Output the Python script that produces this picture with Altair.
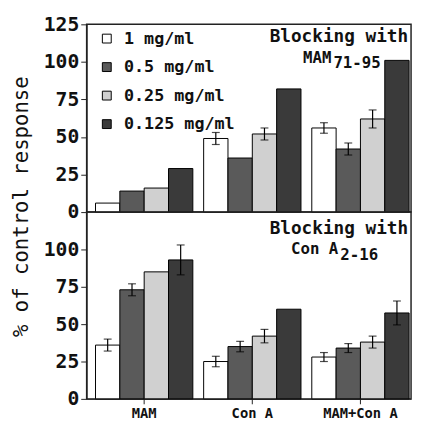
import altair as alt
import pandas as pd

groups = ["MAM", "Con A", "MAM+Con A"]
concs = ["1 mg/ml", "0.5 mg/ml", "0.25 mg/ml", "0.125 mg/ml"]
fills = ["#ffffff", "#5a5a5a", "#d0d0d0", "#3a3a3a"]

# rows: groups, columns: concentrations
top_values = [[6, 14, 16, 29], [49, 36, 52, 82], [56, 42, 62, 101]]
top_errors = [[0, 0, 0, 0], [4, 0, 4, 0], [3.5, 4, 6, 0]]
bottom_values = [[36, 73, 85, 93], [25, 35, 42, 60], [28, 34, 38, 57.5]]
bottom_errors = [[4, 4, 0, 10], [3.5, 3.5, 4.5, 0], [3, 3, 4, 8]]

top_ticks = [0, 25, 50, 75, 100, 125]
bottom_ticks = [0, 25, 50, 75, 100]
y_title = "% of control response"
top_label = ["Blocking with", "MAM", "71-95"]
bottom_label = ["Blocking with", "Con A", "2-16"]

MONO = "DejaVu Sans Mono, Liberation Mono, monospace"


def make_df(values, errors):
    rows = []
    for gi, g in enumerate(groups):
        for ci, c in enumerate(concs):
            v = values[gi][ci]
            e = errors[gi][ci]
            rows.append({"group": g, "conc": c, "value": v, "err": e,
                         "lo": v - e, "hi": v + e})
    return pd.DataFrame(rows)


def panel(values, errors, ticks, label, top, height):
    df = make_df(values, errors)
    err_df = df[df["err"] > 0]

    if top:
        x_axis = None
        y_axis = alt.Axis(values=ticks, title=y_title, titleY=185,
                          titleFont=MONO, titleFontSize=21, titleFontWeight="normal",
                          titlePadding=12, titleColor="#111",
                          labelFont=MONO, labelFontSize=20, labelFontWeight="bold",
                          labelColor="#111", labelPadding=2, tickSize=6,
                          tickColor="#222", domainColor="#222", grid=False)
        legend = alt.Legend(title=None, orient="none", legendX=12, legendY=6,
                            symbolType="square", symbolSize=81,
                            symbolStrokeColor="black", symbolStrokeWidth=1,
                            labelFont=MONO, labelFontSize=17, labelFontWeight="bold",
                            labelColor="#111", rowPadding=11, labelOffset=9,
                            padding=0)
        sub_x = 250
        y1, y2, y3 = 13, 34, 39
    else:
        x_axis = alt.Axis(title=None, labelAngle=0, labelFont=MONO, labelFontSize=14,
                          labelFontWeight="bold", labelColor="#111", tickSize=5,
                          tickColor="#222", domainColor="#222", labelPadding=3)
        y_axis = alt.Axis(values=ticks, title=None,
                          labelFont=MONO, labelFontSize=20, labelFontWeight="bold",
                          labelColor="#111", labelPadding=2, tickSize=6,
                          tickColor="#222", domainColor="#222", grid=False)
        legend = None
        sub_x = 257
        y1, y2, y3 = 17, 38, 44

    x = alt.X("group:N", sort=groups,
              scale=alt.Scale(domain=groups, paddingInner=0.1, paddingOuter=0.05, align=0.82),
              axis=x_axis)
    xo = alt.XOffset("conc:N", sort=concs,
                     scale=alt.Scale(domain=concs, paddingInner=0, paddingOuter=0))
    yscale = alt.Scale(domain=[0, 125], nice=False)

    bars = alt.Chart(df).mark_bar(stroke="black", strokeWidth=1).encode(
        x=x, xOffset=xo,
        y=alt.Y("value:Q", scale=yscale, axis=y_axis),
        color=alt.Color("conc:N", sort=concs,
                        scale=alt.Scale(domain=concs, range=fills), legend=legend),
    )
    rule = alt.Chart(err_df).mark_rule(color="black", strokeWidth=1.2).encode(
        x=x, xOffset=xo,
        y=alt.Y("lo:Q", scale=yscale, axis=y_axis), y2="hi:Q",
    )
    cap_hi = alt.Chart(err_df).mark_tick(color="black", thickness=1.2, size=8).encode(
        x=x, xOffset=xo, y=alt.Y("hi:Q", scale=yscale, axis=y_axis),
    )
    cap_lo = alt.Chart(err_df).mark_tick(color="black", thickness=1.2, size=8).encode(
        x=x, xOffset=xo, y=alt.Y("lo:Q", scale=yscale, axis=y_axis),
    )

    tdf = pd.DataFrame({"t1": [label[0]], "t2": [label[1]], "t3": [label[2]]})
    txt1 = alt.Chart(tdf).mark_text(font=MONO, fontSize=18, fontWeight="bold",
                                    align="right", baseline="middle", color="#111").encode(
        text="t1:N", x=alt.value(327), y=alt.value(y1))
    txt2 = alt.Chart(tdf).mark_text(font=MONO, fontSize=16, fontWeight="bold",
                                    align="right", baseline="middle", color="#111").encode(
        text="t2:N", x=alt.value(sub_x - 1), y=alt.value(y2))
    txt3 = alt.Chart(tdf).mark_text(font=MONO, fontSize=16, fontWeight="bold",
                                    align="left", baseline="middle", color="#111").encode(
        text="t3:N", x=alt.value(sub_x + 1), y=alt.value(y3))

    return alt.layer(bars, rule, cap_hi, cap_lo, txt1, txt2, txt3).properties(
        width=330, height=height)


top_chart = panel(top_values, top_errors, top_ticks, top_label, True, 191)
bottom_chart = panel(bottom_values, bottom_errors, bottom_ticks, bottom_label, False, 190)

chart = alt.vconcat(top_chart, bottom_chart, spacing=0, bounds="flush").resolve_legend(
    color="independent"
).configure(
    padding={"left": 2, "top": 2, "right": 2, "bottom": 2},
).configure_view(
    stroke="#222", strokeWidth=1.5
).configure_axis(grid=False)

chart.save("out.html", embed_options={"renderer": "svg", "actions": False})
